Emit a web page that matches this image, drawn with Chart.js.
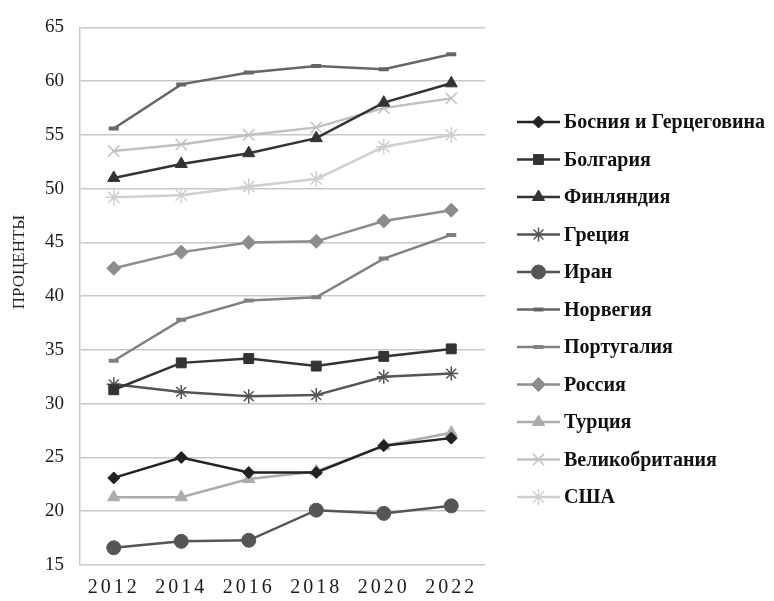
<!DOCTYPE html>
<html>
<head>
<meta charset="utf-8">
<script src="https://cdn.jsdelivr.net/npm/chart.js@4.4.0/dist/chart.umd.min.js"></script>
<style>
  html, body { margin: 0; padding: 0; background: #fff; }
  #wrap { width: 774px; height: 601px; }
</style>
</head>
<body>
<div id="wrap"><canvas id="chart" width="774" height="601"></canvas></div>
<script>
// years on the x axis
const years = ['2012', '2014', '2016', '2018', '2020', '2022'];

// values, percent
const bosnia   = [23.1, 25.0, 23.6, 23.6, 26.1, 26.8];
const bulgaria = [31.3, 33.8, 34.2, 33.5, 34.4, 35.1];
const finland  = [51.0, 52.3, 53.3, 54.7, 58.0, 59.8];
const greece   = [31.8, 31.1, 30.7, 30.8, 32.5, 32.8];
const iran     = [16.6, 17.2, 17.3, 20.1, 19.8, 20.5];
const norway   = [55.6, 59.7, 60.8, 61.4, 61.1, 62.5];
const portugal = [34.0, 37.8, 39.6, 39.9, 43.5, 45.7];
const russia   = [42.6, 44.1, 45.0, 45.1, 47.0, 48.0];
const turkey   = [21.3, 21.3, 23.0, 23.7, 26.1, 27.3];
const uk       = [53.5, 54.1, 55.0, 55.7, 57.5, 58.4];
const usa      = [49.2, 49.4, 50.2, 50.9, 53.9, 55.0];

const yTitle = 'ПРОЦЕНТЫ';
const serif = '"Liberation Serif", "DejaVu Serif", serif';

function series(label, data, color, style, radius, pbw) {
  return {
    label, data,
    borderColor: color, backgroundColor: color,
    pointBackgroundColor: color, pointBorderColor: color,
    borderWidth: 2.5, tension: 0,
    pointStyle: style, pointRadius: radius, pointHoverRadius: radius,
    pointBorderWidth: pbw
  };
}

const datasets = [
  series('Босния и Герцеговина', bosnia, '#222222', 'rectRot', 6, 1),
  series('Болгария', bulgaria, '#333333', 'rect', 7, 1),
  series('Финляндия', finland, '#333333', 'triangle', 7, 1),
  series('Греция', greece, '#555555', 'star', 7, 1.5),
  series('Иран', iran, '#555555', 'circle', 7, 1),
  series('Норвегия', norway, '#666666', 'line', 5, 4),
  series('Португалия', portugal, '#808080', 'line', 5, 4),
  series('Россия', russia, '#8c8c8c', 'rectRot', 7, 1),
  series('Турция', turkey, '#ababab', 'triangle', 7, 1),
  series('Великобритания', uk, '#c0c0c0', 'crossRot', 8, 1.5),
  series('США', usa, '#cfcfcf', 'star', 8, 1.5),
];

// letter spaced year labels, hand drawn legend with line + marker, rotated y title
const decor = {
  id: 'decor',
  beforeLayout(chart) {
    const s = chart.scales.x;
    if (s && !s._spaced) {
      const orig = s.draw.bind(s);
      s.draw = (area) => {
        chart.ctx.letterSpacing = '3px';
        orig(area);
        chart.ctx.letterSpacing = '0px';
      };
      s._spaced = true;
    }
  },
  afterDraw(chart) {
    const ctx = chart.ctx;
    ctx.save();
    ctx.letterSpacing = '0px';
    // y title
    ctx.save();
    ctx.translate(20, 262);
    ctx.rotate(-Math.PI / 2);
    ctx.fillStyle = '#222';
    ctx.font = '17px ' + serif;
    ctx.textAlign = 'center';
    ctx.textBaseline = 'middle';
    ctx.fillText(yTitle, 0, 0);
    ctx.restore();
    // legend
    const x0 = 517, y0 = 122, step = 37.5;
    chart.data.datasets.forEach((ds, i) => {
      const y = y0 + i * step;
      ctx.strokeStyle = ds.borderColor;
      ctx.lineWidth = 2.5;
      ctx.beginPath();
      ctx.moveTo(x0, y);
      ctx.lineTo(x0 + 43, y);
      ctx.stroke();
      ctx.fillStyle = ds.pointBackgroundColor;
      ctx.strokeStyle = ds.pointBorderColor;
      ctx.lineWidth = ds.pointBorderWidth;
      Chart.helpers.drawPoint(ctx, {
        pointStyle: ds.pointStyle, radius: ds.pointRadius, rotation: 0,
        borderWidth: ds.pointBorderWidth
      }, x0 + 21.5, y);
      ctx.fillStyle = '#111';
      ctx.font = 'bold 20px ' + serif;
      ctx.textAlign = 'left';
      ctx.textBaseline = 'middle';
      ctx.fillText(ds.label, x0 + 47, y + 1);
    });
    ctx.restore();
  }
};

new Chart(document.getElementById('chart').getContext('2d'), {
  type: 'line',
  data: { labels: years, datasets },
  options: {
    responsive: false,
    animation: false,
    layout: { padding: { left: 0, top: 21, right: 289, bottom: 0 } },
    plugins: { legend: { display: false }, tooltip: { enabled: false } },
    scales: {
      x: {
        offset: true,
        grid: { display: false },
        border: { display: false },
        ticks: { color: '#1a1a1a', font: { family: serif, size: 20 }, padding: 3, maxRotation: 0, autoSkip: false },
        afterFit(s) { s.height = 36; }
      },
      y: {
        min: 15, max: 65,
        ticks: { stepSize: 5, color: '#1a1a1a', font: { family: serif, size: 19 }, padding: 16 },
        grid: { color: '#c8c8c8', lineWidth: 1.5, drawTicks: false },
        border: { display: true, color: '#c8c8c8', width: 1.5 },
        afterFit(s) { s.width = 80; }
      }
    }
  },
  plugins: [decor]
});
</script>
</body>
</html>
